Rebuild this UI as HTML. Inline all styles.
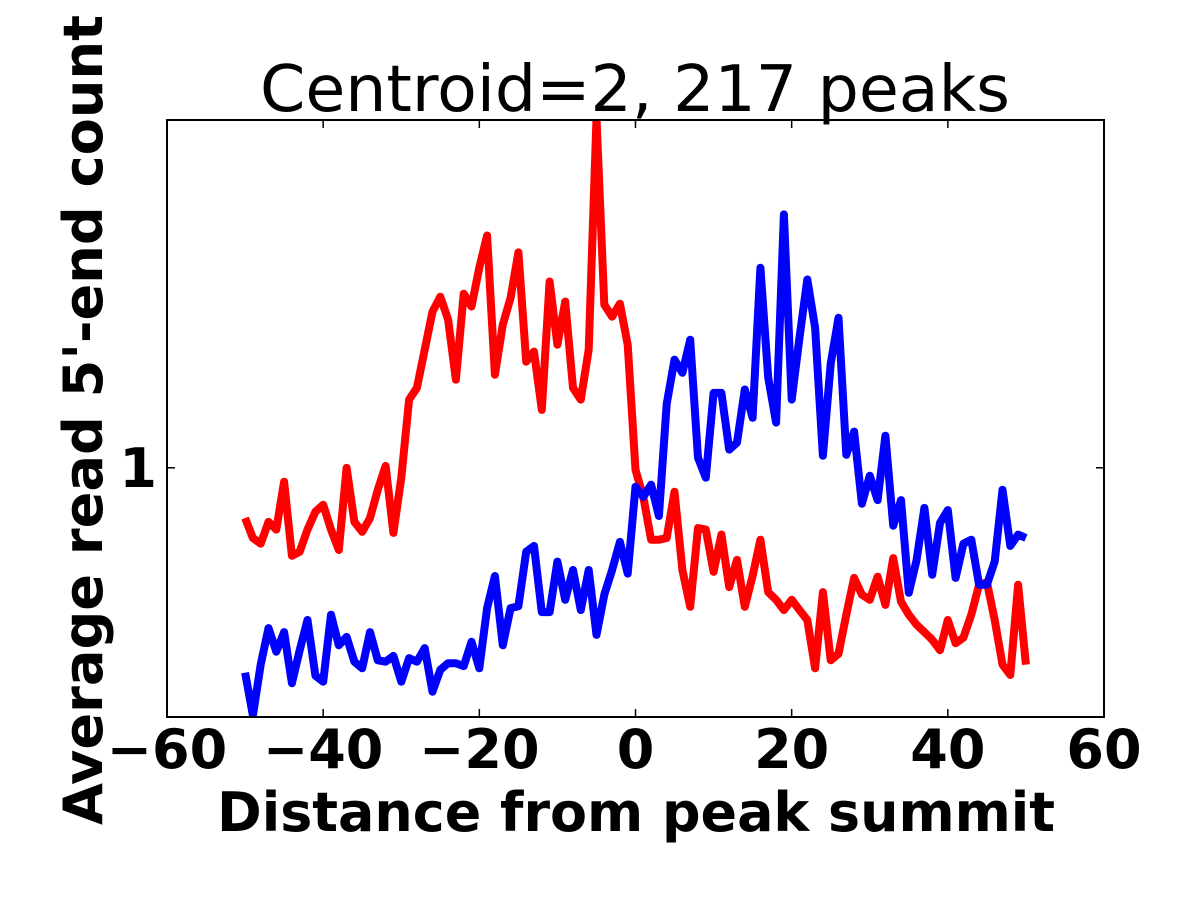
<!DOCTYPE html>
<html><head><meta charset="utf-8"><style>
html,body{margin:0;padding:0;background:#fff;}
svg{display:block;font-family:"DejaVu Sans","Liberation Sans",sans-serif;}
</style></head><body>
<svg id="chart" width="1200" height="900" viewBox="0 0 1200 900" xmlns="http://www.w3.org/2000/svg">
<rect width="1200" height="900" fill="#fff"/>
<text x="635" y="111" text-anchor="middle" font-size="64" textLength="750" lengthAdjust="spacingAndGlyphs">Centroid=2, 217 peaks</text>
<g id="series"></g>
<rect x="167" y="120" width="937" height="597" fill="none" stroke="#000" stroke-width="2"/>
<g id="ticks"></g>
<text x="636" y="831" text-anchor="middle" font-size="54" font-weight="bold" textLength="838" lengthAdjust="spacingAndGlyphs">Distance from peak summit</text>
<text transform="translate(102,420) rotate(-90)" text-anchor="middle" font-size="54" font-weight="bold" textLength="810" lengthAdjust="spacingAndGlyphs">Average read 5'-end count</text>
</svg>
<script>
const xValues = [];
for (let i = -50; i <= 50; i++) xValues.push(i);
const redValues = [0.902,0.866,0.856,0.895,0.881,0.972,0.835,0.842,0.881,0.914,0.927,0.881,0.845,1.0,0.895,0.877,0.902,0.956,1.004,0.875,0.980,1.150,1.178,1.274,1.377,1.420,1.355,1.198,1.429,1.392,1.507,1.610,1.210,1.341,1.417,1.555,1.243,1.269,1.126,1.465,1.287,1.406,1.178,1.150,1.274,2.05,1.397,1.363,1.400,1.287,0.996,0.942,0.863,0.863,0.866,0.952,0.811,0.752,0.884,0.881,0.808,0.872,0.783,0.828,0.752,0.801,0.863,0.775,0.763,0.747,0.763,0.747,0.732,0.663,0.775,0.674,0.683,0.740,0.798,0.771,0.763,0.800,0.755,0.831,0.760,0.740,0.725,0.714,0.703,0.688,0.732,0.698,0.706,0.740,0.787,0.791,0.732,0.668,0.654,0.787,0.668];
const blueValues = [0.657,0.602,0.668,0.720,0.686,0.714,0.643,0.688,0.732,0.653,0.645,0.740,0.695,0.707,0.672,0.663,0.714,0.674,0.672,0.680,0.645,0.677,0.672,0.691,0.632,0.661,0.670,0.670,0.666,0.700,0.663,0.750,0.801,0.695,0.750,0.753,0.842,0.852,0.744,0.744,0.825,0.763,0.811,0.747,0.811,0.710,0.771,0.811,0.859,0.805,0.962,0.942,0.966,0.906,1.140,1.248,1.215,1.300,1.021,0.980,1.166,1.166,1.038,1.053,1.174,1.108,1.507,1.203,1.097,1.681,1.150,1.306,1.471,1.333,1.025,1.238,1.360,1.027,1.077,0.929,0.984,0.936,1.068,0.888,0.936,0.774,0.828,0.921,0.803,0.893,0.917,0.798,0.856,0.863,0.787,0.787,0.825,0.956,0.852,0.872,0.866];
const xTickLabels = [-60,-40,-20,0,20,40,60];
const yTickLabels = [1];

const X0=167,X1=1104,Y0=120,Y1=717;
const XMIN=-60,XMAX=60,YMIN=0.6,YMAX=2.04;
const sx=v=>X0+(v-XMIN)/(XMAX-XMIN)*(X1-X0);
const sy=v=>Y1-(Math.log10(v)-Math.log10(YMIN))/(Math.log10(YMAX)-Math.log10(YMIN))*(Y1-Y0);
const NS="http://www.w3.org/2000/svg";
const series=document.getElementById('series');
const clip=document.createElementNS(NS,'clipPath');clip.setAttribute('id','pc');
const cr=document.createElementNS(NS,'rect');cr.setAttribute('x',X0);cr.setAttribute('y',Y0);cr.setAttribute('width',X1-X0);cr.setAttribute('height',Y1-Y0);
clip.appendChild(cr);document.getElementById('chart').appendChild(clip);
function line(vals,color,name){
  const p=document.createElementNS(NS,'polyline');
  p.setAttribute('points',vals.map((v,i)=>sx(xValues[i]).toFixed(1)+','+sy(v).toFixed(1)).join(' '));
  p.setAttribute('fill','none');p.setAttribute('stroke',color);p.setAttribute('stroke-width','8');
  p.setAttribute('stroke-linejoin','round');p.setAttribute('clip-path','url(#pc)');
  
  
  series.appendChild(p);
}
line(redValues,'#ff0000','red-series-line');
line(blueValues,'#0000ff','blue-series-line');
const ticks=document.getElementById('ticks');
xTickLabels.forEach(t=>{
  const x=sx(t);
  [[Y1,Y1-8],[Y0,Y0+8]].forEach(([a,b])=>{
    const l=document.createElementNS(NS,'line');
    l.setAttribute('x1',x);l.setAttribute('x2',x);l.setAttribute('y1',a);l.setAttribute('y2',b);
    l.setAttribute('stroke','#000');l.setAttribute('stroke-width','1.5');
    
    
    ticks.appendChild(l);
  });
  const tx=document.createElementNS(NS,'text');
  tx.setAttribute('x',x);tx.setAttribute('y',768);tx.setAttribute('text-anchor','middle');
  tx.setAttribute('font-size','54');tx.setAttribute('font-weight','bold');
  tx.textContent=(t<0?'\u2212'+(-t):String(t));
  
  
  ticks.appendChild(tx);
});
yTickLabels.forEach(t=>{
  const y=sy(t);
  [[X0,X0+8],[X1,X1-8]].forEach(([a,b])=>{
    const l=document.createElementNS(NS,'line');
    l.setAttribute('x1',a);l.setAttribute('x2',b);l.setAttribute('y1',y);l.setAttribute('y2',y);
    l.setAttribute('stroke','#000');l.setAttribute('stroke-width','1.5');
    
    
    ticks.appendChild(l);
  });
  const tx=document.createElementNS(NS,'text');
  tx.setAttribute('x',157);tx.setAttribute('y',y+19);tx.setAttribute('text-anchor','end');
  tx.setAttribute('font-size','54');tx.setAttribute('font-weight','bold');
  tx.textContent=String(t);
  
  
  ticks.appendChild(tx);
});
</script>
</body></html>
